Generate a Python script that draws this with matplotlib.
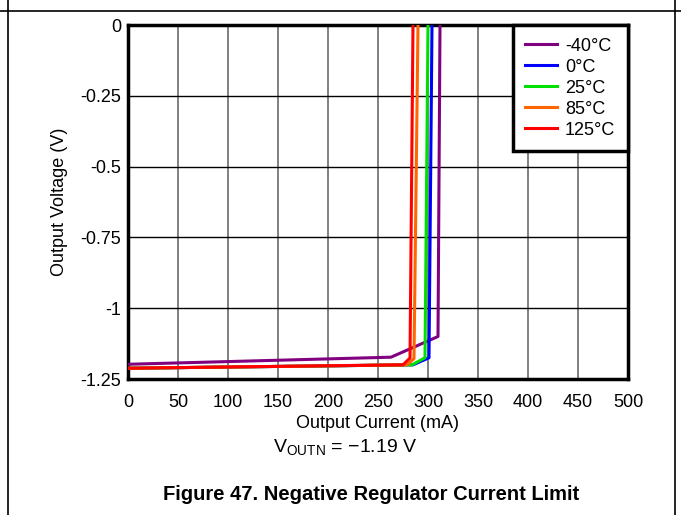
import matplotlib
matplotlib.use("Agg")
import matplotlib.pyplot as plt
from matplotlib.lines import Line2D

plt.rcParams['font.family'] = ['Liberation Sans', 'DejaVu Sans']
plt.rcParams['mathtext.fontset'] = 'custom'
plt.rcParams['mathtext.rm'] = 'Liberation Sans'

labels = ['-40°C', '0°C', '25°C', '85°C', '125°C']
colors = ['#800080', '#0000FF', '#00E000', '#FF6600', '#FF0000']
current = [
    [0, 263, 310, 312],
    [0, 285, 301, 304],
    [0, 284, 297, 300],
    [0, 279, 286, 290],
    [0, 275, 282, 285],
]
voltage = [
    [-1.198, -1.173, -1.10, 0.0],
    [-1.212, -1.200, -1.175, 0.0],
    [-1.212, -1.200, -1.175, 0.0],
    [-1.212, -1.200, -1.178, 0.0],
    [-1.212, -1.200, -1.176, 0.0],
]
xticks = [0, 50, 100, 150, 200, 250, 300, 350, 400, 450, 500]
yticks = [0, -0.25, -0.5, -0.75, -1, -1.25]
yticklabels = ['0', '-0.25', '-0.5', '-0.75', '-1', '-1.25']

fig = plt.figure(figsize=(6.81, 5.15), dpi=100)
ax = fig.add_axes([128/681, 1-379/515, 500/681, 354/515])

for x, y, c, l in zip(current, voltage, colors, labels):
    ax.plot(x, y, color=c, lw=2.2, label=l, zorder=3)

ax.set_xlim(0, 500)
ax.set_ylim(-1.25, 0)
ax.set_xticks(xticks)
ax.set_yticks(yticks)
ax.set_yticklabels(yticklabels)
ax.tick_params(length=0, labelsize=13)
ax.tick_params(axis='x', pad=11)
ax.tick_params(axis='y', pad=5)
ax.xaxis.grid(True, color='#808080', lw=1.4)
ax.yaxis.grid(True, color='black', lw=1.0)
for s in ax.spines.values():
    s.set_linewidth(2.5)
    s.set_color('black')
ax.set_xlabel('Output Current (mA)', fontsize=13, labelpad=3)
ax.set_ylabel('Output Voltage (V)', fontsize=13, labelpad=9)

leg = ax.legend(loc='upper right', fontsize=13, frameon=True, fancybox=False,
                edgecolor='black', framealpha=1, borderaxespad=0,
                handlelength=1.75, handletextpad=0.45, labelspacing=0.22,
                borderpad=0.7)
leg.get_frame().set_linewidth(2.5)

fig.text(345/681, 1-453/515, r'V$_{\mathrm{OUTN}}$ = −1.19 V', fontsize=14,
         ha='center', va='baseline')
fig.text(371/681, 1-500/515, 'Figure 47. Negative Regulator Current Limit',
         fontsize=14.5, fontweight='bold', ha='center', va='baseline')

# page border lines
fig.add_artist(Line2D([0, 1], [1-11/515, 1-11/515], color='black', lw=1.2,
                      transform=fig.transFigure))
fig.add_artist(Line2D([8/681, 8/681], [0, 1], color='black', lw=1.2,
                      transform=fig.transFigure))
fig.add_artist(Line2D([675/681, 675/681], [0, 1], color='black', lw=1.2,
                      transform=fig.transFigure))

fig.savefig('out.png', dpi=100)
